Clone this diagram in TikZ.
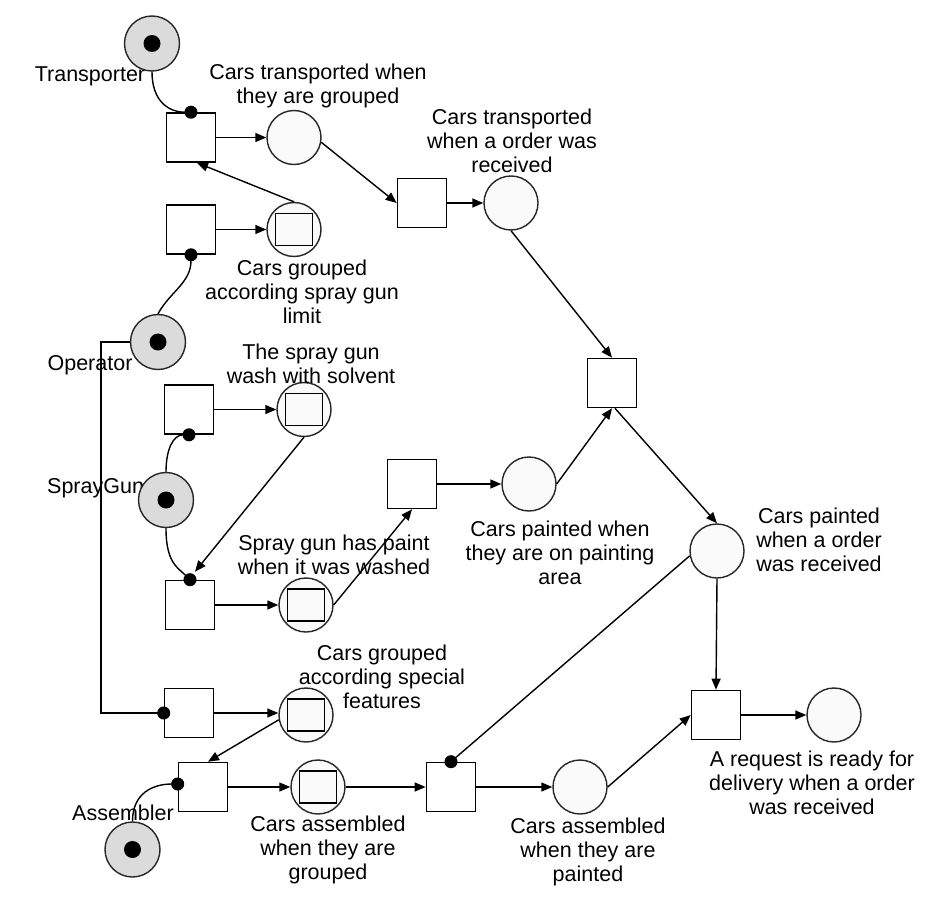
\documentclass[tikz,border=0pt]{standalone}
\usepackage{fontspec}
\setmainfont{Liberation Sans}
\usetikzlibrary{arrows.meta}
\begin{document}
\begin{tikzpicture}[x=1pt,y=1pt,
  font=\fontsize{21.5}{24}\selectfont,
  trans/.style={draw, line width=1.6pt, fill=white, minimum size=49pt, inner sep=0pt},
  place/.style={circle, draw=black!85, line width=1.4pt, fill=black!2, minimum size=54pt, inner sep=0pt},
  resource/.style={place, fill=black!14, minimum size=55pt,
    path picture={\fill[black] (path picture bounding box.center) circle (8.5pt);}},
  boxed/.style={place,
    path picture={\draw[black, line width=1.5pt] ([xshift=-18.5pt,yshift=-16pt]path picture bounding box.center) rectangle ++(37pt,32pt);}},
  lbl/.style={align=center, inner sep=0pt},
  flow/.style={line width=1.4pt, -{Triangle[length=11pt,width=9pt]}},
  readlink/.style={line width=1.4pt, -{Circle[length=13pt]}, shorten >=-6.5pt},
]
\fill[white] (0,0) rectangle (930,-902);
\useasboundingbox (0,0) rectangle (930,-902);

% resource places and their names
\node[lbl] (trlbl) at (90,-76) {Transporter};
\node[lbl] (oplbl) at (90,-365) {Operator};
\node[lbl, anchor=west] (sglbl) at (47,-488) {SprayGun};
\node[lbl] (aslbl) at (123,-813) {Assembler};
\node[resource] (tr) at (152,-43.5) {};
\node[resource] (op) at (158,-342) {};
\node[resource] (sg) at (166,-500) {};
\node[resource] (as) at (132.5,-849.5) {};

% transitions
\node[trans] (t1) at (191,-137.5) {};
\node[trans] (t2) at (191,-229.5) {};
\node[trans] (t3) at (422,-203) {};
\node[trans] (t4) at (612,-383) {};
\node[trans] (t5) at (189,-409.5) {};
\node[trans] (t6) at (190,-605) {};
\node[trans] (t7) at (189,-713) {};
\node[trans] (t8) at (203,-787) {};
\node[trans] (t9) at (451,-787) {};
\node[trans] (t10) at (716,-715) {};
\node[trans] (t11) at (412,-484) {};

% places
\node[place] (p1) at (294,-137.5) {};
\node[boxed] (p2) at (294,-229.5) {};
\node[place] (p3) at (511,-203) {};
\node[place] (p4) at (529,-484) {};
\node[boxed] (p5) at (304,-409.5) {};
\node[boxed] (p6) at (306,-605) {};
\node[boxed] (p7) at (306,-715) {};
\node[boxed] (p8) at (318,-787) {};
\node[place] (p9) at (580,-787) {};
\node[place] (p10) at (717,-551) {};
\node[place] (p11) at (834,-715) {};

% place descriptions
\node[lbl] (p1lbl) at (318,-85.5) {Cars transported when\\they are grouped};
\node[lbl] (p2lbl) at (302,-292) {Cars grouped\\according spray gun\\limit};
\node[lbl] (p3lbl) at (512,-141) {Cars transported\\when a order was\\received};
\node[lbl] (p5lbl) at (311,-364) {The spray gun\\wash with solvent};
\node[lbl] (p6lbl) at (334,-555) {Spray gun has paint\\when it was washed};
\node[lbl] (p4lbl) at (560,-553) {Cars painted when\\they are on painting\\area};
\node[lbl] (p10lbl) at (819,-540) {Cars painted\\when a order\\was received};
\node[lbl] (p7lbl) at (382,-677) {Cars grouped\\according special\\features};
\node[lbl] (p8lbl) at (328,-850) {Cars assembled\\when they are\\grouped};
\node[lbl] (p9lbl) at (588,-852) {Cars assembled\\when they are\\painted};
\node[lbl] (p11lbl) at (812,-783) {A request is ready for\\delivery when a order\\was received};

% arcs
\draw[readlink] (tr.south) .. controls +(0,-30) and +(-22,0) .. (t1.north);
\draw[flow] (t1.east) -- (t1.east -| p1.west);
\draw[flow] (p2.north) -- ([xshift=6pt]t1.south);
\draw[flow] (t2.east) -- (t2.east -| p2.west);
\draw[readlink] (op.north) .. controls +(12,22) and +(0,-28) .. (t2.south);
\draw[flow] (p1.-10) -- (t3.west);
\draw[flow] (t3.east) -- (t3.east -| p3.west);
\draw[flow] (p3.south) -- (t4.north);
\draw[flow] (t5.east) -- (t5.east -| p5.west);
\draw[readlink] (sg.north) .. controls +(0,22) and +(-16,0) .. (t5.south);
\draw[readlink] (sg.south) .. controls +(0,-35) and +(-12,12) .. (t6.north);
\draw[flow] (p5.south) -- ([shift={(5pt,8pt)}]t6.north);
\draw[flow] (t6.east) -- (t6.east -| p6.west);
\draw[flow] (p6.east) -- (t11.south);
\draw[flow] (t11.east) -- (t11.east -| p4.west);
\draw[flow] (p4.east) -- (t4.south);
\draw[flow] ([xshift=3pt]t4.south) -- (p10.north);
\draw[flow] (p10.south) -- (t10.north);
\draw[readlink] (p10.190) -- (t9.north);
\draw[readlink] (op.west) -- ++(-29,0) |- (t7.west);
\draw[flow] (t7.east) -- (t7.east -| p7.west);
\draw[flow] (p7.190) -- ([xshift=5pt]t8.north);
\draw[readlink] (as.north) .. controls +(0,28) and +(-25,0) .. ([yshift=3pt]t8.west);
\draw[flow] (t8.east) -- (t8.east -| p8.west);
\draw[flow] (p8.east) -- (p8.east -| t9.west);
\draw[flow] (t9.east) -- (t9.east -| p9.west);
\draw[flow] (p9.east) -- (t10.west);
\draw[flow] (t10.east) -- (t10.east -| p11.west);
\end{tikzpicture}
\end{document}
